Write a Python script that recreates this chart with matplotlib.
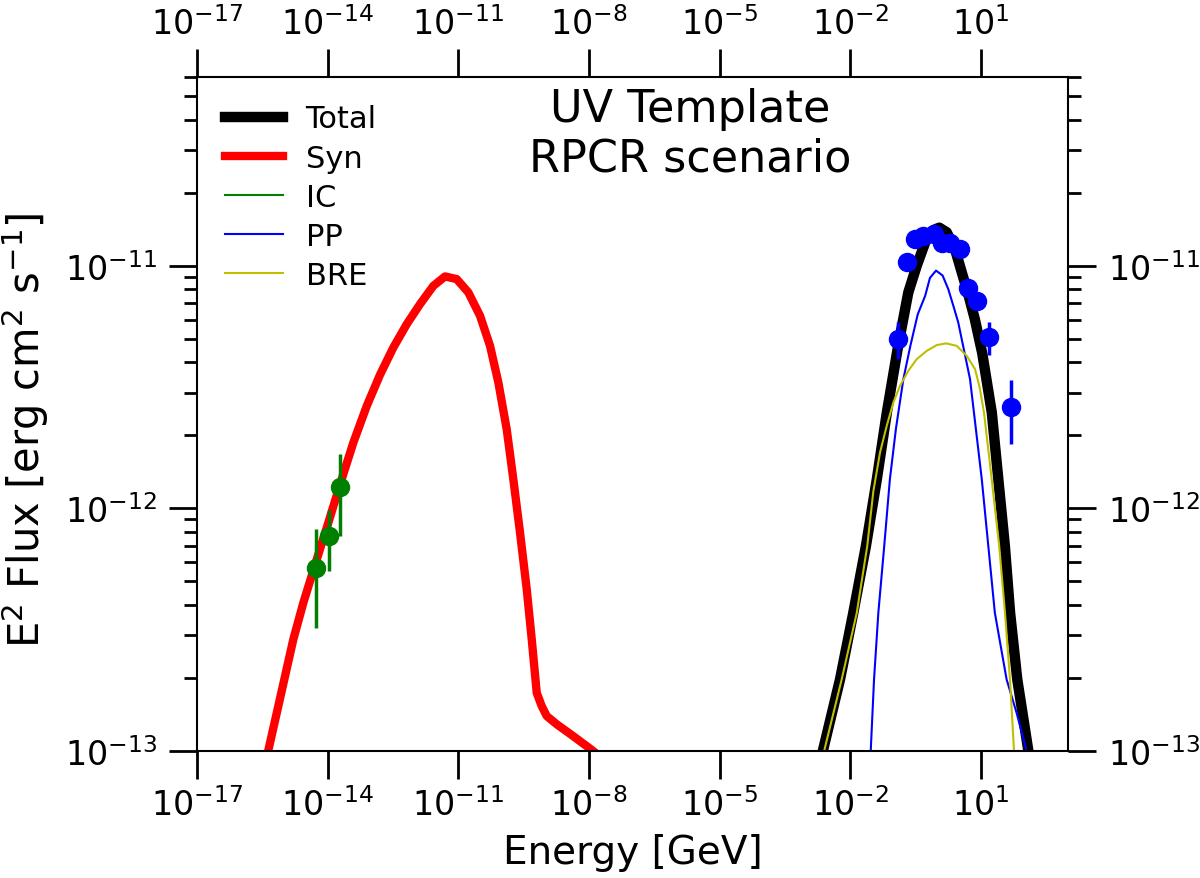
import numpy as np
import matplotlib
matplotlib.use('Agg')
import matplotlib.pyplot as plt
from matplotlib.ticker import NullLocator, NullFormatter

# ─── Model curves (log10 E [GeV], log10 E^2 flux) ───
syn_logE = [-15.50, -15.370, -14.789, -14.559, -14.251, -13.985, -13.716,
            -13.411, -13.103, -12.798, -12.492, -12.185, -11.879, -11.574,
            -11.305, -11.037, -10.770, -10.502, -10.272, -10.081, -9.889,
            -9.737, -9.583, -9.429, -9.314, -9.200, -9.085, -8.970, -8.74,
            -8.36, -7.94, -7.70]
syn_logF = [-13.09, -13.003, -12.540, -12.389, -12.210, -12.059, -11.901,
            -11.729, -11.578, -11.449, -11.337, -11.241, -11.158, -11.083,
            -11.044, -11.055, -11.110, -11.206, -11.330, -11.481, -11.674,
            -11.880, -12.100, -12.334, -12.540, -12.760, -12.815, -12.856,
            -12.890, -12.939, -12.995, -13.03]

tot_logE = [-2.75, -2.63, -2.235, -1.93, -1.64, -1.39, -1.16, -0.90, -0.667,
            -0.474, -0.28, -0.093, 0.045, 0.215, 0.405, 0.56, 0.72, 0.86,
            1.03, 1.25, 1.40, 1.55, 1.67, 1.835, 2.09, 2.20]
tot_logF = [-13.09, -13.00, -12.705, -12.43, -12.155, -11.88, -11.605, -11.33,
            -11.11, -11.00, -10.904, -10.853, -10.843, -10.862, -10.931,
            -11.027, -11.124, -11.22, -11.36, -11.605, -11.88, -12.155,
            -12.43, -12.705, -13.00, -13.10]

pp_logE = [-1.56, -1.53, -1.454, -1.355, -1.22, -1.09, -0.95, -0.78, -0.62,
           -0.45, -0.28, -0.17, -0.03, 0.12, 0.25, 0.367, 0.48, 0.75, 1.02,
           1.17, 1.32, 1.59, 1.82, 2.05, 2.15]
pp_logF = [-13.10, -13.00, -12.705, -12.43, -12.155, -11.88, -11.67, -11.467,
           -11.33, -11.20, -11.124, -11.05, -11.02, -11.04, -11.096, -11.165,
           -11.234, -11.467, -11.88, -12.155, -12.43, -12.705, -12.843,
           -13.00, -13.08]

bre_logE = [-2.72, -2.60, -2.197, -1.85, -1.61, -1.47, -1.317, -1.163, -1.011,
            -0.858, -0.667, -0.474, -0.245, -0.015, 0.200, 0.444, 0.673,
            0.865, 0.97, 1.071, 1.248, 1.42, 1.553, 1.668, 1.76, 1.80]
bre_logF = [-13.09, -13.00, -12.705, -12.43, -12.155, -11.93, -11.770,
            -11.660, -11.564, -11.495, -11.433, -11.385, -11.351, -11.327,
            -11.320, -11.330, -11.371, -11.426, -11.50, -11.605, -11.88,
            -12.155, -12.43, -12.705, -13.00, -13.20]

# ─── Data points ───
ic_E = [5.5e-15, 1.07e-14, 1.92e-14]
ic_F = [5.7e-13, 7.66e-13, 1.22e-12]
ic_err = [2.5e-13, 2.14e-13, 4.5e-13]

gam_E = [0.123, 0.198, 0.307, 0.475, 0.838, 1.26, 1.95, 3.31, 4.97, 8.0,
         15.6, 49.0]
gam_F = [4.99e-12, 1.038e-11, 1.288e-11, 1.33e-11, 1.35e-11, 1.24e-11,
         1.24e-11, 1.17e-11, 8.07e-12, 7.18e-12, 5.07e-12, 2.61e-12]
gam_err = [0.88e-12, 0.3e-12, 0.3e-12, 0.3e-12, 0.3e-12, 0.3e-12, 0.3e-12,
           0.3e-12, 0.3e-12, 0.3e-12, 0.8e-12, 0.76e-12]

xticks = [1e-17, 1e-14, 1e-11, 1e-8, 1e-5, 1e-2, 1e1]

fig = plt.figure(figsize=(12, 8.79), dpi=100)
ax = fig.add_axes([0.1642, 0.1445, 0.7258, 0.7668])

ax.plot(10**np.array(tot_logE), 10**np.array(tot_logF), color='black', lw=7.5, label='Total')
ax.plot(10**np.array(syn_logE), 10**np.array(syn_logF), color='red', lw=6, label='Syn')
ax.plot([], [], color='green', lw=1.5, label='IC')
ax.plot(10**np.array(pp_logE), 10**np.array(pp_logF), color='blue', lw=1.5, label='PP')
ax.plot(10**np.array(bre_logE), 10**np.array(bre_logF), color='y', lw=1.5, label='BRE')

ax.errorbar(ic_E, ic_F, yerr=ic_err, fmt='o', color='green', ms=13,
            elinewidth=2.5, capsize=0, zorder=5)
ax.errorbar(gam_E, gam_F, yerr=gam_err, fmt='o', color='blue', ms=13,
            elinewidth=2.5, capsize=0, zorder=5)

ax.set_xscale('log')
ax.set_yscale('log')
ax.set_xlim(1e-17, 1e3)
ax.set_ylim(1e-13, 6e-11)
ax.set_xticks(xticks)
ax.xaxis.set_minor_locator(NullLocator())
ax.yaxis.set_minor_formatter(NullFormatter())

ax.tick_params(which='both', direction='out', top=True, right=True,
               labeltop=True, labelright=True, labelsize=24)
ax.tick_params(which='major', length=20, width=2, pad=6)
ax.tick_params(which='minor', length=9.5, width=2)
ax.tick_params(axis='y', which='major', pad=9)
for s in ax.spines.values():
    s.set_linewidth(1.5)

ax.set_xlabel('Energy [GeV]', fontsize=28, labelpad=8)
ax.set_ylabel('E$^2$ Flux [erg cm$^2$ s$^{-1}$]', fontsize=30)
ax.yaxis.set_label_coords(-0.168, 0.478)

ax.text(0.566, 0.985, 'UV Template\nRPCR scenario', transform=ax.transAxes,
        ha='center', va='top', fontsize=32)

ax.legend(loc='upper left', frameon=False, fontsize=22, handlelength=1.9,
          handletextpad=0.75, labelspacing=0.33)

plt.savefig('out.png', dpi=100)
